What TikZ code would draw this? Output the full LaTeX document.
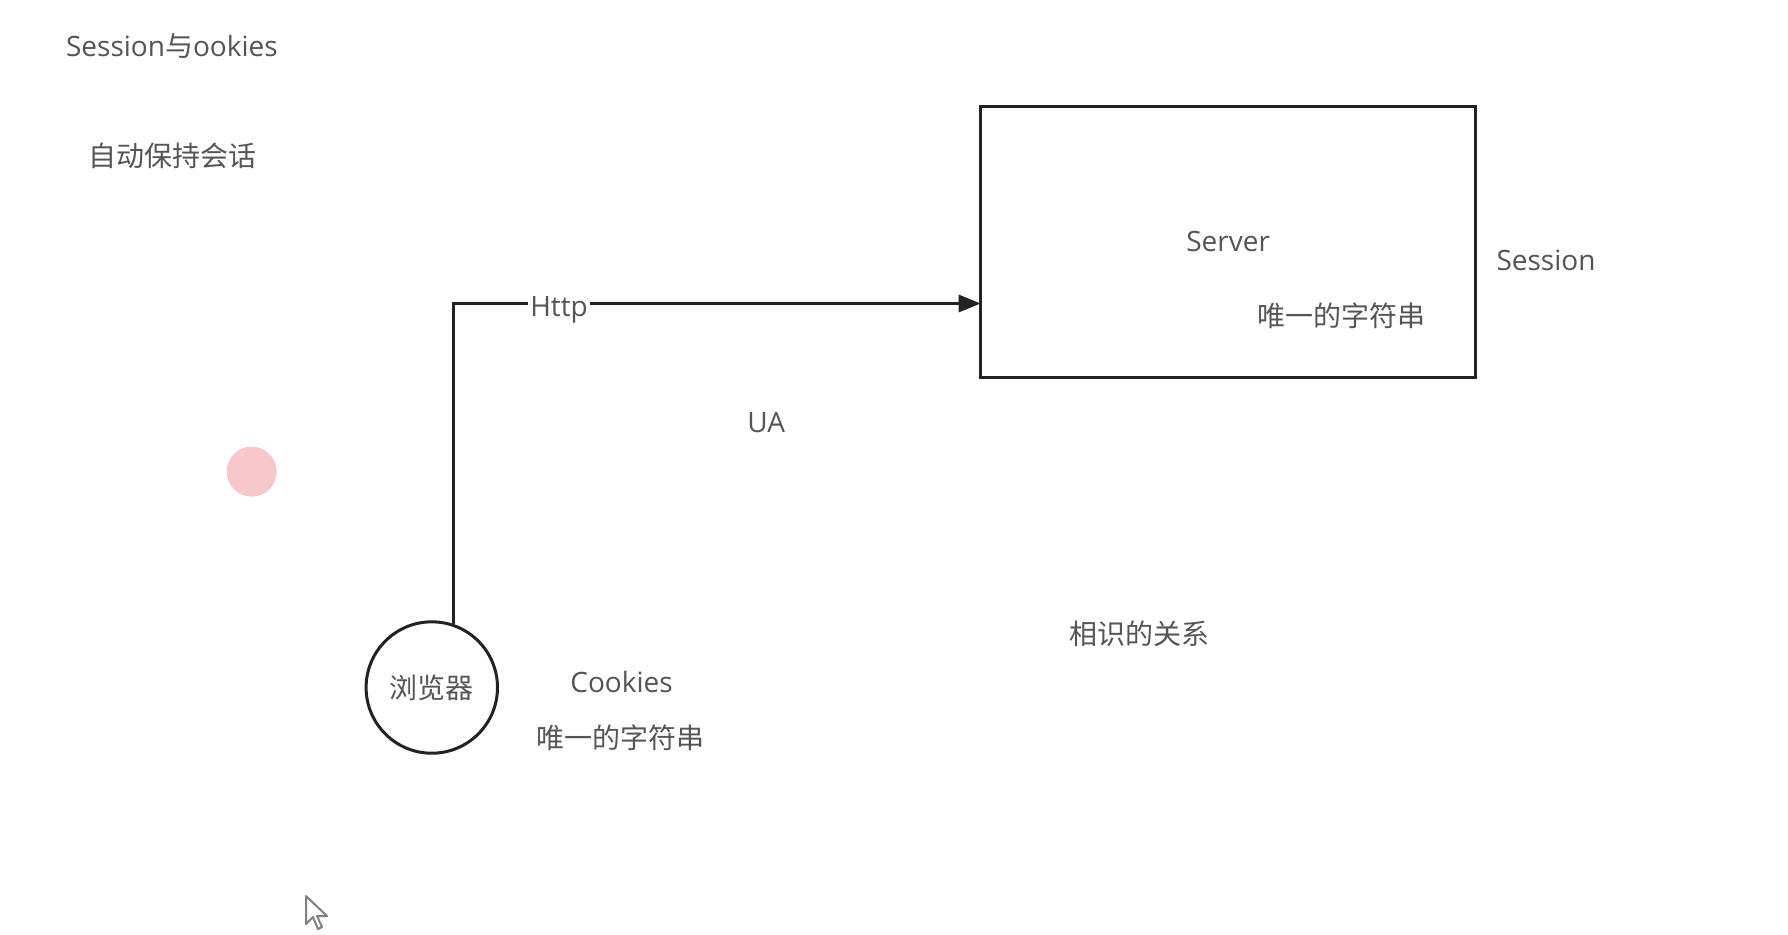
\documentclass[tikz,border=0pt]{standalone}
\usepackage{fontspec}
\setmainfont{Open Sans}
\newfontfamily\cjk{Noto Sans CJK SC}
\usepackage{tikz}
\usetikzlibrary{arrows.meta}

\definecolor{letra}{HTML}{555555}
\definecolor{trazo}{HTML}{222222}
\definecolor{rosa}{RGB}{246,200,204}

\begin{document}
\begin{tikzpicture}[x=0.5pt,y=-0.5pt,
    font=\fontsize{14}{16}\selectfont,
    txt/.style={text=letra,inner sep=0pt},
    caja/.style={draw=trazo,line width=1.5pt,text=letra,minimum width=247.5pt,minimum height=135.7pt},
    circulo/.style={circle,draw=trazo,line width=1.5pt,text=letra,minimum size=65.7pt,inner sep=0pt},
    flecha/.style={-{Triangle[length=11pt,width=8.5pt]},draw=trazo,line width=1.5pt}]
  \useasboundingbox (0,0) rectangle (1788,934);
  \fill[white] (0,0) rectangle (1788,934);

    \draw (65.7,45.8) node[txt,anchor=west] (titulo) {Session{\cjk 与}ookies};
    \draw (172.1,156.2) node[txt] (autosesion) {\cjk 自动保持会话};

    \draw (1228.1,241.8) node[caja] (server) {Server};
      \draw (1341.3,315.4) node[txt] (cadena2) {\cjk 唯一的字符串};
    \draw (1496.1,260.7) node[txt,anchor=west] (session) {Session};

    \draw (431.8,687.5) node[circulo] (navegador) {\cjk 浏览器};
      \draw (621.5,681.6) node[txt] (cookies) {Cookies};
      \draw (620.9,737.3) node[txt] (cadena1) {\cjk 唯一的字符串};

    \draw (766.2,422.9) node[txt] (ua) {UA};
    \draw (1139.3,633.8) node[txt] (relacion) {\cjk 相识的关系};

    \coordinate (llegada) at (980.7,303.5);
     \draw[flecha] (navegador.71) |- node[pos=0.6,fill=white,text=letra,inner sep=1pt,yshift=-3pt] (http) {Http} (llegada);

    % punto rosa y puntero
    \fill[rosa] (251.7,471.6) circle (12.5pt);
    \draw[gray,line width=1pt,fill=white,line join=round]
      (306,896) -- (306,924) -- (313,917) -- (318,929) -- (322,927) -- (317,916) -- (327,916) -- cycle;

\end{tikzpicture}
\end{document}
